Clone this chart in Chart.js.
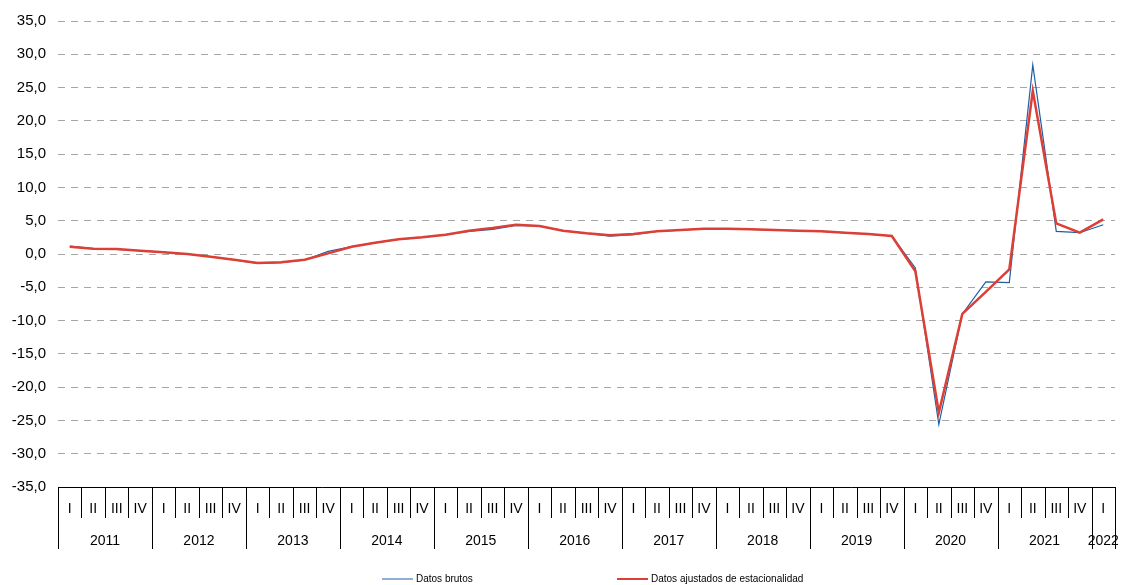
<!DOCTYPE html>
<html>
<head>
<meta charset="utf-8">
<script src="https://cdn.jsdelivr.net/npm/chart.js@4.4.1/dist/chart.umd.min.js"></script>
<style>
  html, body { margin: 0; padding: 0; background: #ffffff; }
  #wrap { width: 1123px; height: 585px; position: relative; }
</style>
</head>
<body>
<div id="wrap"><canvas id="c" width="1123" height="585"></canvas></div>
<script>
// ---- Data ----
const years = ['2011','2012','2013','2014','2015','2016','2017','2018','2019','2020','2021','2022'];
const quarterNames = ['I','II','III','IV'];
const quartersInYear = [4,4,4,4,4,4,4,4,4,4,4,1];
const yTicks = [-35,-30,-25,-20,-15,-10,-5,0,5,10,15,20,25,30,35];

const datosBrutos = [
  1.2, 0.8, 0.7, 0.5,
  0.25, 0.0, -0.4, -0.9,
  -1.4, -1.3, -0.9, 0.4,
  1.1, 1.7, 2.2, 2.5,
  2.9, 3.4, 3.7, 4.3,
  4.2, 3.5, 3.1, 2.7,
  2.9, 3.4, 3.6, 3.8,
  3.8, 3.7, 3.6, 3.5,
  3.4, 3.2, 3.0, 2.7,
  -2.1, -25.6, -9.0, -4.2,
  -4.3, 28.4, 3.4, 3.2,
  4.4
];
const datosAjustados = [
  1.1, 0.8, 0.75, 0.5,
  0.25, 0.0, -0.4, -0.85,
  -1.35, -1.25, -0.85, 0.1,
  1.1, 1.7, 2.2, 2.5,
  2.9, 3.5, 3.9, 4.4,
  4.2, 3.5, 3.1, 2.8,
  3.0, 3.4, 3.6, 3.8,
  3.8, 3.7, 3.6, 3.5,
  3.4, 3.2, 3.0, 2.7,
  -2.6, -23.8, -9.0, -5.7,
  -2.3, 24.5, 4.6, 3.2,
  5.2
];
const seriesNames = ['Datos brutos', 'Datos ajustados de estacionalidad'];
const seriesColors = ['#1f5fa6', '#dc3f35'];

// categories built from years/quarters
const categories = [];
const categoryQuarter = [];
years.forEach((y, yi) => {
  for (let q = 0; q < quartersInYear[yi]; q++) {
    categories.push(y + ' ' + quarterNames[q]);
    categoryQuarter.push(quarterNames[q]);
  }
});

const FONT = '"Liberation Sans", Arial, sans-serif';

const axisPlugin = {
  id: 'twoLevelAxis',
  afterDraw(chart) {
    const ctx = chart.ctx;
    const xs = chart.scales.x;
    const area = chart.chartArea;
    const n = categories.length;
    const half = (xs.getPixelForValue(1) - xs.getPixelForValue(0)) / 2;
    const axisY = area.bottom;
    ctx.save();
    ctx.strokeStyle = '#000000';
    ctx.lineWidth = 1;
    // quarter and year separators
    let idx = 0;
    const yearStarts = [];
    years.forEach((y, yi) => { yearStarts.push(idx); idx += quartersInYear[yi]; });
    for (let i = 0; i <= n; i++) {
      const xp = Math.round((i < n ? xs.getPixelForValue(i) - half : xs.getPixelForValue(n - 1) + half)) + 0.5;
      const isYear = yearStarts.includes(i) || i === n;
      ctx.beginPath();
      ctx.moveTo(xp, axisY);
      ctx.lineTo(xp, isYear ? axisY + 62 : axisY + 31);
      ctx.stroke();
    }
    // quarter labels
    ctx.fillStyle = '#000000';
    ctx.textAlign = 'center';
    ctx.textBaseline = 'middle';
    ctx.font = '14px ' + FONT;
    for (let i = 0; i < n; i++) {
      ctx.fillText(categoryQuarter[i], xs.getPixelForValue(i), axisY + 22);
    }
    // year labels
    years.forEach((y, yi) => {
      const s = yearStarts[yi];
      const e = s + quartersInYear[yi] - 1;
      const cx = (xs.getPixelForValue(s) + xs.getPixelForValue(e)) / 2;
      ctx.fillText(y, cx, axisY + 54);
    });
    // legend
    ctx.font = '10px ' + FONT;
    ctx.textAlign = 'left';
    const legendY = 579;
    const legendX = [382, 617];
    seriesNames.forEach((name, k) => {
      ctx.strokeStyle = seriesColors[k];
      ctx.lineWidth = k === 0 ? 1 : 2;
      ctx.beginPath();
      ctx.moveTo(legendX[k], legendY);
      ctx.lineTo(legendX[k] + 31, legendY);
      ctx.stroke();
      ctx.fillStyle = '#000000';
      ctx.fillText(name, legendX[k] + 34, legendY);
    });
    ctx.restore();
  }
};

new Chart(document.getElementById('c'), {
  type: 'line',
  data: {
    labels: categories,
    datasets: [
      {
        label: seriesNames[0],
        data: datosBrutos,
        borderColor: seriesColors[0],
        borderWidth: 1.2,
        pointRadius: 0,
        tension: 0,
        fill: false,
        order: 2
      },
      {
        label: seriesNames[1],
        data: datosAjustados,
        borderColor: seriesColors[1],
        borderWidth: 2.5,
        pointRadius: 0,
        tension: 0,
        fill: false,
        order: 1
      }
    ]
  },
  options: {
    responsive: false,
    animation: false,
    devicePixelRatio: 1,
    layout: { padding: { top: 17, right: 8, left: 0, bottom: 0 } },
    plugins: { legend: { display: false }, tooltip: { enabled: false } },
    scales: {
      x: {
        type: 'category',
        offset: true,
        grid: { display: false, drawTicks: false },
        border: { display: true, color: '#000000', width: 1 },
        ticks: { display: false },
        afterFit(scale) { scale.height = 98; }
      },
      y: {
        min: -35,
        max: 35,
        afterBuildTicks(scale) { scale.ticks = yTicks.map(v => ({ value: v })); },
        grid: { color: '#a6a6a6', lineWidth: 1, drawTicks: false },
        border: { display: false, dash: [7, 6] },
        ticks: {
          padding: 12,
          color: '#000000',
          font: { family: FONT, size: 15 },
          callback: (v) => Number(v).toFixed(1).replace('.', ',')
        },
        afterFit(scale) { scale.width = 58; }
      }
    }
  },
  plugins: [axisPlugin]
});
</script>
</body>
</html>
